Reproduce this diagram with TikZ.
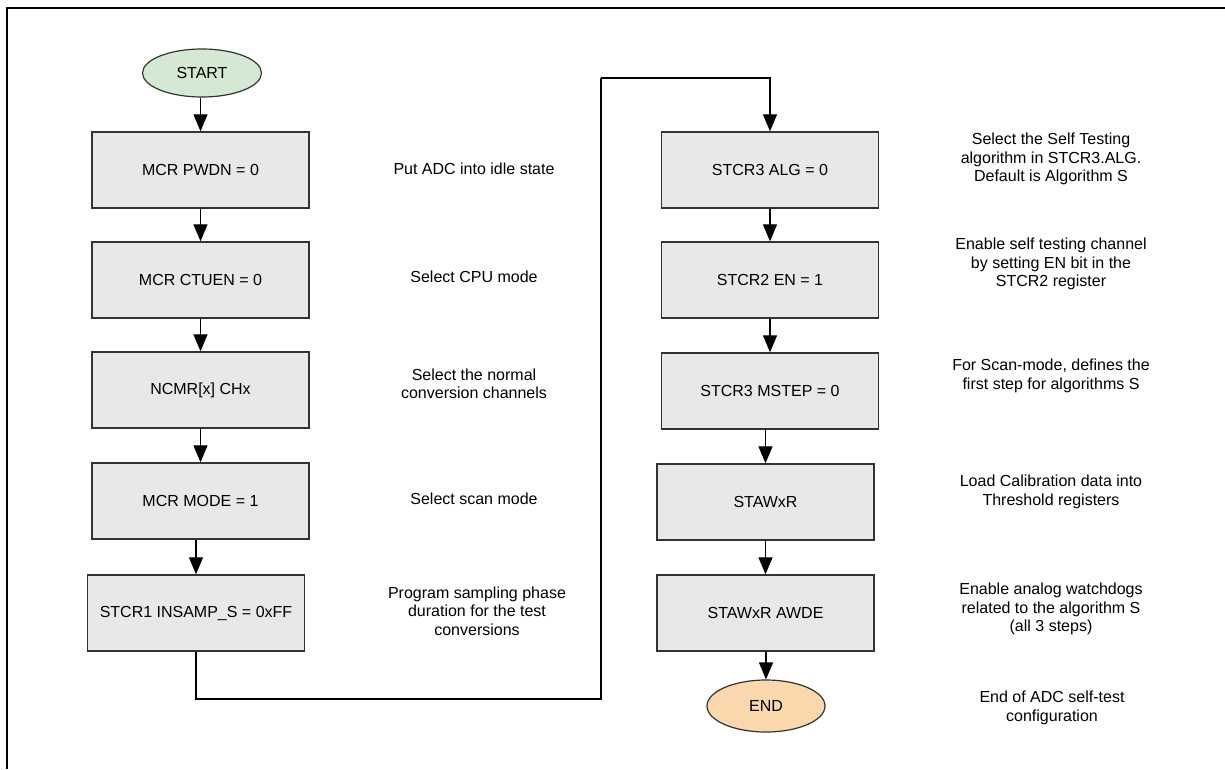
\documentclass[tikz,border=0pt]{standalone}
\usepackage{fontspec}
\setmainfont{Liberation Sans}
\usetikzlibrary{arrows.meta,shapes.geometric}

\definecolor{boxfill}{HTML}{E8E8E8}
\definecolor{boxline}{HTML}{333333}
\definecolor{startfill}{HTML}{D5E8D4}
\definecolor{endfill}{HTML}{FAD7AC}

\tikzset{
  stepbox/.style={draw=boxline, line width=1.4pt, fill=boxfill,
    minimum width=217pt, minimum height=76pt, inner sep=0pt,
    font=\fontsize{16}{18}\selectfont},
  terminal/.style={ellipse, draw=boxline, line width=1.2pt,
    minimum width=119pt, minimum height=48pt, inner sep=0pt,
    font=\fontsize{16}{18}\selectfont},
  note/.style={align=center, font=\fontsize{16}{18.5}\selectfont, inner sep=0pt},
  flow/.style={draw=black, line width=1.3pt,
    -{Triangle[length=17pt,width=14pt]}},
  link/.style={draw=black, line width=1.3pt},
}

\begin{document}
\begin{tikzpicture}[x=1pt,y=-1pt]
\useasboundingbox (0,0) rectangle (1225,769);

% frame (top and left edges)
\draw[line width=2.6pt] (7,769) -- (7,8) -- (1225,8);

% left column
\node[terminal, fill=startfill] (start) at (202,73) {START};
\node[stepbox] (pwdn)  at (200.5,170) {MCR PWDN = 0};
\node[stepbox] (ctuen) at (200.5,280) {MCR CTUEN = 0};
\node[stepbox] (ncmr)  at (200.5,390) {NCMR[x] CHx};
\node[stepbox] (mode)  at (200.5,501) {MCR MODE = 1};
\node[stepbox] (insamp) at (196,613) {STCR1 INSAMP\_S = 0xFF};

% right column
\node[stepbox] (alg)   at (770,170) {STCR3 ALG = 0};
\node[stepbox] (en)    at (770,280) {STCR2 EN = 1};
\node[stepbox] (mstep) at (770,391) {STCR3 MSTEP = 0};
\node[stepbox] (stawxr) at (765.5,502) {STAWxR};
\node[stepbox] (awde)  at (765.5,613) {STAWxR AWDE};
\node[terminal, fill=endfill, minimum width=118pt, minimum height=52pt] (end) at (766,706) {END};

% descriptions
\node[note] (n1) at (474,169) {Put ADC into idle state};
\node[note] (n2) at (474,277) {Select CPU mode};
\node[note] (n3) at (474,384) {Select the normal\\conversion channels};
\node[note] (n4) at (474,499) {Select scan mode};
\node[note] (n5) at (477,611) {Program sampling phase\\duration for the test\\conversions};

\node[note] (n6)  at (1051,159) {Select the Self Testing\\algorithm in STCR3.ALG.\\Default is Algorithm S};
\node[note] (n7)  at (1051,264) {Enable self testing channel\\by setting EN bit in the\\STCR2 register};
\node[note] (n8)  at (1051,376) {For Scan-mode, defines the\\first step for algorithms S};
\node[note] (n9)  at (1051,492) {Load Calibration data into\\Threshold registers};
\node[note] (n10) at (1051,609) {Enable analog watchdogs\\related to the algorithm S\\(all 3 steps)};
\node[note] (n11) at (1052,708) {End of ADC self-test\\configuration};

% connectors, left column
\draw[flow] (start.south -| pwdn.north) -- (pwdn.north);
\draw[flow] (pwdn) -- (ctuen);
\draw[flow] (ctuen) -- (ncmr);
\draw[flow] (ncmr) -- (mode);
\draw[flow] (mode.south -| insamp.north) -- (insamp.north);

% crossing to the right column
\coordinate (low)  at (601,699);
\coordinate (high) at (601,78);
\draw[link] (insamp.south) |- (low) -- (high);
\draw[flow] (high) -| (alg.north);

% connectors, right column
\draw[flow] (alg) -- (en);
\draw[flow] (en) -- (mstep);
\draw[flow] (mstep.south -| stawxr.north) -- (stawxr.north);
\draw[flow] (stawxr) -- (awde);
\draw[flow] (awde.south -| end.north) -- (end.north);
\end{tikzpicture}
\end{document}
